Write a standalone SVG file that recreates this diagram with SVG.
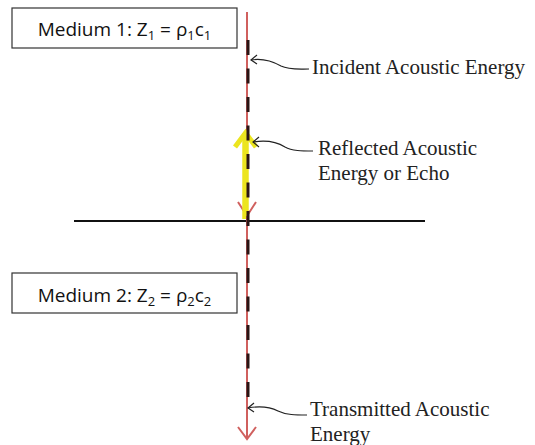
<svg xmlns="http://www.w3.org/2000/svg" width="535" height="445" viewBox="0 0 535 445">
<style>
.box{fill:#fff;stroke:#333;stroke-width:1.2}
.btxt{font-family:"Open Sans","Liberation Sans",sans-serif;font-size:19px;fill:#111;text-anchor:middle}
.sub{font-size:13px}
.lbl{font-family:"Liberation Serif","Times New Roman",serif;font-size:21px;fill:#222}
.red{stroke:#d0605e;stroke-width:2;fill:none}
.dash{stroke:#2a1515;stroke-width:3;stroke-dasharray:15 13.5;fill:none}
.lead{stroke:#222;stroke-width:1.2;fill:none}
</style>
<rect width="535" height="445" fill="#fff"/>
<g id="connectors">
  <line x1="74" y1="221" x2="425" y2="221" stroke="#111" stroke-width="2.2"/>
  <line class="red" x1="247" y1="12" x2="247" y2="216"/>
  <polyline class="red" points="238,202 247,216 256,202"/>
  <line x1="245.5" y1="219" x2="245.5" y2="133" stroke="#ece51f" stroke-width="6.5"/>
  <polyline points="235,147 245.5,133 256,147" stroke="#ece51f" stroke-width="5" fill="none"/>
  <line class="red" x1="247" y1="216" x2="247" y2="439"/>
  <polyline class="red" points="238,427 247,439 256,427"/>
  <line class="dash" x1="248" y1="40" x2="248" y2="398"/>
  <path class="lead" d="M251 60 C263 58 272 61 281 66 C289 70 298 69 309 69"/>
  <polyline class="lead" points="257,55 251,60 257,64"/>
  <path class="lead" d="M253 142 C265 140 277 142 285 147 C292 151 302 151 313 151"/>
  <polyline class="lead" points="259,137 253,142 259,147"/>
  <path class="lead" d="M248 408 C259 406 270 407 278 411 C286 415 296 415 307 415"/>
  <polyline class="lead" points="254,403 248,408 254,412"/>
</g>
<g id="medium1">
  <rect class="box" x="12" y="8" width="225" height="40"/>
  <text class="btxt" x="124.5" y="36">Medium 1: Z<tspan class="sub" dy="4">1</tspan><tspan dy="-4"> = ρ</tspan><tspan class="sub" dy="4">1</tspan><tspan dy="-4">c</tspan><tspan class="sub" dy="4">1</tspan></text>
</g>
<g id="medium2">
  <rect class="box" x="12" y="273" width="225" height="40"/>
  <text class="btxt" x="124.5" y="302">Medium 2: Z<tspan class="sub" dy="4">2</tspan><tspan dy="-4"> = ρ</tspan><tspan class="sub" dy="4">2</tspan><tspan dy="-4">c</tspan><tspan class="sub" dy="4">2</tspan></text>
</g>
<g id="incident">
  <text class="lbl" x="312" y="74">Incident Acoustic Energy</text>
</g>
<g id="reflected">
  <text class="lbl" x="318" y="155">Reflected Acoustic</text>
  <text class="lbl" x="318" y="180">Energy or Echo</text>
</g>
<g id="transmitted">
  <text class="lbl" x="310" y="416">Transmitted Acoustic</text>
  <text class="lbl" x="310" y="441">Energy</text>
</g>
</svg>
